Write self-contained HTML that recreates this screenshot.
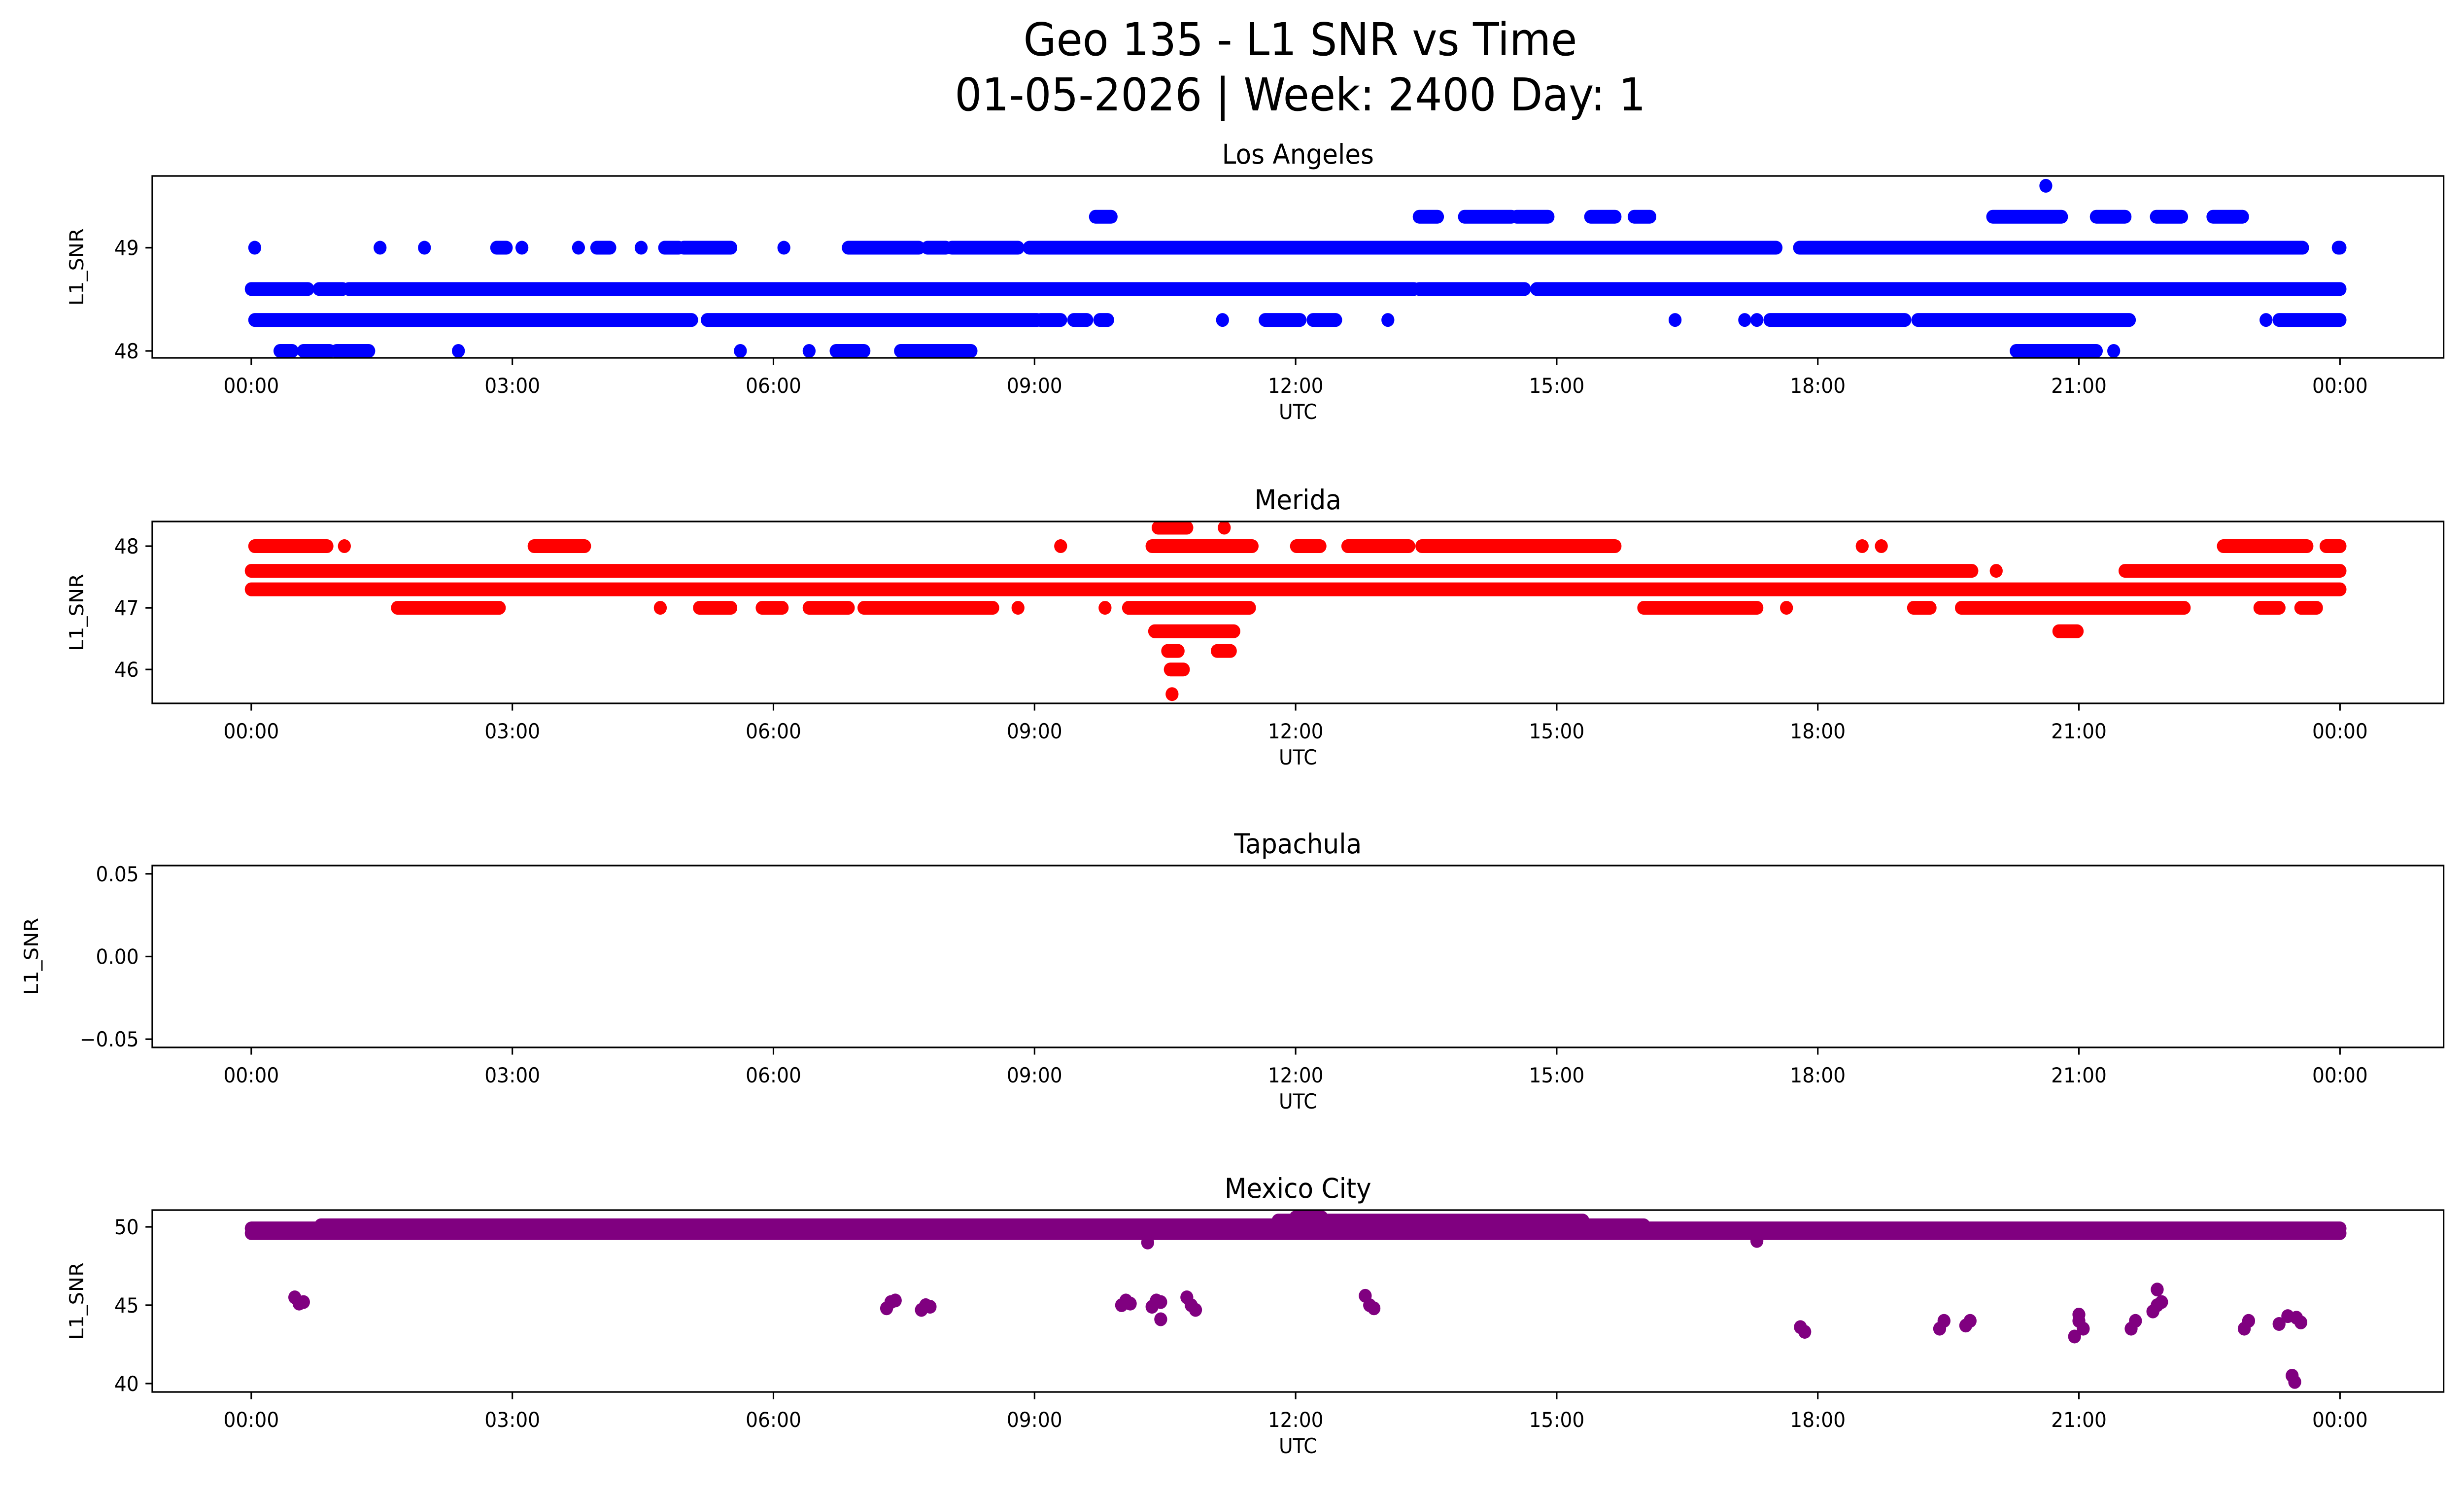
<!DOCTYPE html>
<html><head><meta charset="utf-8"><style>
html,body{margin:0;padding:0;background:#fff;width:100%;height:100%;overflow:hidden;}
svg{display:block;width:100vw;height:100vh;font-family:"DejaVu Sans","Liberation Sans",sans-serif;}
</style></head><body>
<svg id="fig" viewBox="0 0 5325 3033" preserveAspectRatio="none" xmlns="http://www.w3.org/2000/svg">
<rect width="5325" height="3033" fill="#fff"/>
<text x="2810" y="112" font-size="92" text-anchor="middle">Geo 135 - L1 SNR vs Time</text>
<text x="2810" y="224" font-size="92" text-anchor="middle">01-05-2026 | Week: 2400 Day: 1</text>
<g id="plots"></g>
</svg>
<script>
// ---- data (hours UTC, SNR values) ----
const xTickLabels = ["00:00","03:00","06:00","09:00","12:00","15:00","18:00","21:00","00:00"];
const xTickHours = [0,3,6,9,12,15,18,21,24];
const stationNames = ["Los Angeles","Merida","Tapachula","Mexico City"];
const laTicks = [48,49];
const meTicks = [46,47,48];
const taTicks = [-0.05,0,0.05];
const mxTicks = [40,45,50];
const taTickLabels = ["\u22120.05","0.00","0.05"];
// runs: [startHour, endHour, value]
const laRuns = [
 [0.04,5.06,48.3],[5.24,9.03,48.3],[9.07,9.3,48.3],[9.45,9.6,48.3],[9.75,9.84,48.3],[11.16,11.16,48.3],[11.65,12.05,48.3],[12.2,12.46,48.3],[13.06,13.06,48.3],[16.36,16.36,48.3],[17.16,17.16,48.3],[17.3,17.3,48.3],[17.45,19.0,48.3],[19.15,21.58,48.3],[23.15,23.15,48.3],[23.3,24.0,48.3],
 [0.0,0.65,48.6],[0.78,1.05,48.6],[1.12,13.36,48.6],[13.42,14.63,48.6],[14.77,24.0,48.6],
 [0.04,0.04,49],[1.48,1.48,49],[1.99,1.99,49],[2.82,2.93,49],[3.11,3.11,49],[3.76,3.76,49],[3.97,4.12,49],[4.48,4.48,49],[4.75,4.91,49],[4.97,5.51,49],[6.12,6.12,49],[6.86,7.67,49],[7.77,7.98,49],[8.05,8.81,49],[8.94,17.52,49],[17.79,23.57,49],[23.98,24.0,49],
 [9.70,9.88,49.3],[13.42,13.63,49.3],[13.94,14.48,49.3],[14.54,14.9,49.3],[15.39,15.67,49.3],[15.89,16.07,49.3],[20.01,20.80,49.3],[21.2,21.53,49.3],[21.89,22.18,49.3],[22.54,22.88,49.3],
 [20.62,20.62,49.6],
 [0.33,0.47,48.0],[0.6,0.9,48.0],[0.98,1.35,48.0],[2.38,2.38,48.0],[5.62,5.62,48.0],[6.41,6.41,48.0],[6.72,7.04,48.0],[7.46,8.27,48.0],[20.28,21.2,48.0],[21.4,21.4,48.0]
];
const meRuns = [
 [0,19.77,47.6],[20.05,20.05,47.6],[21.53,24.0,47.6],
 [0,24.0,47.3],
 [0.04,0.87,48.0],[1.07,1.07,48.0],[3.25,3.83,48.0],[9.3,9.3,48.0],[10.35,11.5,48.0],[12.01,12.28,48.0],[12.6,13.3,48.0],[13.45,15.67,48.0],[18.51,18.51,48.0],[18.73,18.73,48.0],[22.66,23.62,48.0],[23.84,24.0,48.0],
 [1.68,2.85,47.0],[4.7,4.7,47.0],[5.15,5.51,47.0],[5.87,6.1,47.0],[6.41,6.86,47.0],[7.04,8.52,47.0],[8.81,8.81,47.0],[9.81,9.81,47.0],[10.08,11.47,47.0],[16.0,17.3,47.0],[17.64,17.64,47.0],[19.1,19.29,47.0],[19.65,22.21,47.0],[23.08,23.3,47.0],[23.55,23.73,47.0],
 [10.38,11.29,46.62],[20.77,20.98,46.62],
 [10.53,10.65,46.3],[11.1,11.25,46.3],
 [10.56,10.71,46.0],
 [10.58,10.58,45.6],
 [10.42,10.75,48.3],[11.18,11.18,48.3]
];
const mxRuns = [
 [0,24,49.6],[0,24,49.9],[0.8,16.0,50.1],[11.8,15.3,50.4],[12.0,12.3,50.6]
];
// isolated / cluster points: times and values
const mxTimes = [0.5,0.55,0.6,7.3,7.35,7.4,7.7,7.75,7.8,10.0,10.05,10.1,10.35,10.4,10.45,10.45,10.75,10.8,10.85,12.8,12.85,12.9,17.8,17.85,19.4,19.45,19.7,19.75,20.95,21.0,21.05,21.0,21.6,21.65,21.85,21.9,21.95,21.9,22.9,22.95,23.3,23.4,23.5,23.55,23.45,23.48,10.3,17.3];
const mxValues = [45.5,45.1,45.2,44.8,45.2,45.3,44.7,45.0,44.9,45.0,45.3,45.1,44.9,45.3,45.2,44.1,45.5,45.0,44.7,45.6,45.0,44.8,43.6,43.3,43.5,44.0,43.7,44.0,43.0,44.4,43.5,44.0,43.5,44.0,44.6,46.0,45.2,45.0,43.5,44.0,43.8,44.3,44.2,43.9,40.5,40.1,49.0,49.1];

// ---- layout ----
const L = 329, R = 5281, panelH = 369;
const tops = [357, 1058, 1756, 2455];
const yDomains = [[47.933,49.695],[45.45,48.40],[-0.055,0.055],[39.46,51.07]];
const colors = ["#0000ff","#ff0000","#800080","#800080"];
const x0 = 543, x24 = 5057;
const NS = "http://www.w3.org/2000/svg";
const root = document.getElementById('plots');
function xs(h){ return x0 + (x24 - x0) * h / 24; }
function mk(tag, attrs, parent){ const e = document.createElementNS(NS, tag); for (const k in attrs) e.setAttribute(k, attrs[k]); parent.appendChild(e); return e; }

function drawPanel(i, runs, yTicks, yLabels, pts){
  const top = tops[i], bot = top + panelH, dom = yDomains[i];
  const ys = v => bot - (v - dom[0]) / (dom[1] - dom[0]) * panelH;
  const g = mk('g', {}, root);
  
  
  const clip = mk('clipPath', {id:'c'+i}, g);
  mk('rect', {x:L, y:top, width:R-L, height:panelH}, clip);
  const marks = mk('g', {'clip-path':'url(#c'+i+')'}, g);
  
  
  runs.forEach(r => {
    const ln = mk('line', {x1:xs(r[0]), x2:xs(r[1]), y1:ys(r[2]), y2:ys(r[2]), stroke:colors[i], 'stroke-width':28, 'stroke-linecap':'round'}, marks);
    
    
  });
  if (pts) pts[0].forEach((t, k) => {
    const c = mk('circle', {cx:xs(t), cy:ys(pts[1][k]), r:14, fill:colors[i]}, marks);
    
    
  });
  const frame = mk('rect', {x:L, y:top, width:R-L, height:panelH, fill:'none', stroke:'#000', 'stroke-width':3.3}, g);
  
  
  xTickHours.forEach((h, k) => {
    mk('line', {x1:xs(h), x2:xs(h), y1:bot, y2:bot+14.6, stroke:'#000', 'stroke-width':3.3}, g);
    const t = mk('text', {x:xs(h), y:bot+71, 'font-size':41.7, 'text-anchor':'middle'}, g);
    t.textContent = xTickLabels[k];
    
    
  });
  yTicks.forEach((v, k) => {
    mk('line', {x1:L-14.6, x2:L, y1:ys(v), y2:ys(v), stroke:'#000', 'stroke-width':3.3}, g);
    const t = mk('text', {x:L-29, y:ys(v)+15, 'font-size':41.7, 'text-anchor':'end'}, g);
    t.textContent = yLabels ? yLabels[k] : String(v);
    
    
  });
  const xl = mk('text', {x:(L+R)/2, y:bot+124, 'font-size':41.7, 'text-anchor':'middle'}, g);
  xl.textContent = 'UTC';
  
  
  const yx = i === 2 ? 82 : 180;
  const yl = mk('text', {x:yx, y:top+panelH/2, 'font-size':41.7, 'text-anchor':'middle', transform:'rotate(-90 '+yx+' '+(top+panelH/2)+')'}, g);
  yl.textContent = 'L1_SNR';
  
  
  const st = mk('text', {x:(L+R)/2, y:top-25, 'font-size':55, 'text-anchor':'middle'}, g);
  st.textContent = stationNames[i];
  
  
}
drawPanel(0, laRuns, laTicks, null, null);
drawPanel(1, meRuns, meTicks, null, null);
drawPanel(2, [], taTicks, taTickLabels, null);
drawPanel(3, mxRuns, mxTicks, null, [mxTimes, mxValues]);
</script>
</body></html>
